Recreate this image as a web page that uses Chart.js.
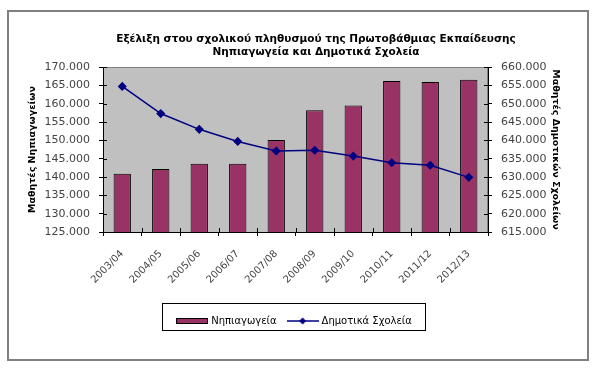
<!DOCTYPE html>
<html><head><meta charset="utf-8">
<script src="https://cdn.jsdelivr.net/npm/chart.js@4/dist/chart.umd.min.js"></script>
<style>html,body{margin:0;padding:0;background:#fff;}canvas{display:block;}</style>
</head><body>
<canvas id="c" width="600" height="371"></canvas>
<script>
const categories = ['2003/04','2004/05','2005/06','2006/07','2007/08','2008/09','2009/10','2010/11','2011/12','2012/13'];
const kindergartenValues = [140900, 142200, 143600, 143600, 150100, 158200, 159500, 166200, 165900, 166500];
const primaryValues = [654700, 647300, 643000, 639700, 637100, 637300, 635700, 633900, 633200, 629900];
const leftAxisRange = [125000, 170000];
const rightAxisRange = [615000, 660000];
const tickStep = 5000;
const titleLines = ['Εξέλιξη στου σχολικού πληθυσμού της Πρωτοβάθμιας Εκπαίδευσης', 'Νηπιαγωγεία και Δημοτικά Σχολεία'];
const seriesNames = ['Νηπιαγωγεία', 'Δημοτικά Σχολεία'];
const axisTitles = ['Μαθητές Νηπιαγωγείων', 'Μαθητές Δημοτικών Σχολείων'];

const FONT = "'DejaVu Sans', 'Liberation Sans', Arial, sans-serif";
const BAR_COLOR = '#993366';
const LINE_COLOR = '#000080';
const TICK_COLOR = '#444';
const fmt = v => String(v).replace(/\B(?=(\d{3})+(?!\d))/g, '.');

function barSwatch() {
  const c = document.createElement('canvas'); c.width = 32; c.height = 6;
  const g = c.getContext('2d');
  g.fillStyle = BAR_COLOR; g.fillRect(0.5, 0.5, 31, 5);
  g.strokeStyle = '#000'; g.lineWidth = 1; g.strokeRect(0.5, 0.5, 31, 5);
  return c;
}
function lineSwatch() {
  const c = document.createElement('canvas'); c.width = 32; c.height = 8;
  const g = c.getContext('2d');
  g.strokeStyle = LINE_COLOR; g.lineWidth = 1.5;
  g.beginPath(); g.moveTo(0, 4); g.lineTo(32, 4); g.stroke();
  g.fillStyle = LINE_COLOR;
  g.beginPath(); g.moveTo(16, 0.5); g.lineTo(19.5, 4); g.lineTo(16, 7.5); g.lineTo(12.5, 4); g.closePath(); g.fill();
  return c;
}

const framePlugin = {
  id: 'frame',
  beforeDraw(chart) {
    const ctx = chart.ctx, a = chart.chartArea;
    ctx.save();
    ctx.fillStyle = '#fff'; ctx.fillRect(0, 0, chart.width, chart.height);
    ctx.strokeStyle = '#808080'; ctx.lineWidth = 2;
    ctx.strokeRect(8, 11, 580, 349);
    ctx.fillStyle = '#C0C0C0';
    ctx.fillRect(a.left, a.top, a.right - a.left, a.bottom - a.top);
    ctx.strokeStyle = '#808080'; ctx.lineWidth = 1;
    ctx.strokeRect(a.left + 0.5, a.top + 0.5, a.right - a.left - 1, a.bottom - a.top);
    // title
    ctx.fillStyle = '#000';
    ctx.font = 'bold 10.5px ' + FONT;
    ctx.textAlign = 'center'; ctx.textBaseline = 'middle';
    ctx.fillText(titleLines[0], 316, 39);
    ctx.fillText(titleLines[1], 316, 52);
    ctx.restore();
  },
  afterDraw(chart) {
    const ctx = chart.ctx, a = chart.chartArea;
    ctx.save();
    ctx.strokeStyle = '#000'; ctx.lineWidth = 1;
    ctx.beginPath();
    const yl = chart.scales.y, yr = chart.scales.y1;
    yl.ticks.forEach((t, i) => { const p = Math.round(yl.getPixelForTick(i)) + 0.5; ctx.moveTo(a.left, p); ctx.lineTo(a.left + 4, p); });
    yr.ticks.forEach((t, i) => { const p = Math.round(yr.getPixelForTick(i)) + 0.5; ctx.moveTo(a.right - 4, p); ctx.lineTo(a.right, p); });
    const n = categories.length, w = (a.right - a.left) / n;
    for (let i = 1; i < n; i++) { const p = Math.round(a.left + i * w) + 0.5; ctx.moveTo(p, a.bottom - 4); ctx.lineTo(p, a.bottom); }
    ctx.stroke();
    // legend box
    const lg = chart.legend;
    if (lg && lg.legendHitBoxes.length) {
      const hb = lg.legendHitBoxes;
      const l = Math.min(...hb.map(h => h.left)), r = Math.max(...hb.map(h => h.left + h.width));
      const t = hb[0].top;
      ctx.strokeStyle = '#000';
      ctx.strokeRect(Math.round(l) - 15.5, Math.round(t) - 12.5, Math.round(r - l) + 29, 27);
    }
    ctx.restore();
  }
};

const tickFont = {family: FONT, size: 11};
new Chart(document.getElementById('c'), {
  type: 'bar',
  data: {
    labels: categories,
    datasets: [
      {
        type: 'line', label: seriesNames[1], data: primaryValues, yAxisID: 'y1',
        borderColor: LINE_COLOR, backgroundColor: LINE_COLOR, borderWidth: 1.5,
        pointStyle: 'rectRot', pointRadius: 3.5, pointHoverRadius: 3.5, tension: 0, order: 0
      },
      {
        type: 'bar', label: seriesNames[0], data: kindergartenValues, yAxisID: 'y',
        backgroundColor: BAR_COLOR, borderColor: '#000', borderWidth: 1,
        barPercentage: 0.45, categoryPercentage: 1, order: 1
      }
    ]
  },
  options: {
    responsive: false, animation: false,
    layout: {padding: {left: 20, right: 30, top: 67, bottom: 35}},
    plugins: {
      title: {display: false},
      tooltip: {enabled: false},
      legend: {
        position: 'bottom',
        labels: {
          usePointStyle: true, pointStyleWidth: 28, padding: 12,
          font: {family: FONT, size: 10}, color: '#111',
          generateLabels: chart => [
            {text: seriesNames[0], pointStyle: barSwatch(), datasetIndex: 1, fillStyle: BAR_COLOR, strokeStyle: '#000', lineWidth: 0},
            {text: seriesNames[1], pointStyle: lineSwatch(), datasetIndex: 0, fillStyle: LINE_COLOR, strokeStyle: LINE_COLOR, lineWidth: 0}
          ]
        }
      }
    },
    scales: {
      x: {
        grid: {offset: true, drawOnChartArea: false, color: '#000', tickLength: 4},
        border: {color: '#000'},
        ticks: {font: {family: FONT, size: 10}, color: TICK_COLOR, minRotation: 45, maxRotation: 45, padding: 12},
        afterFit: s => { s.height = 72; }
      },
      y: {
        position: 'left', min: leftAxisRange[0], max: leftAxisRange[1],
        grid: {drawOnChartArea: false, color: '#000', tickLength: 4},
        border: {color: '#000'},
        ticks: {stepSize: tickStep, font: tickFont, color: TICK_COLOR, padding: 9, callback: v => fmt(v)},
        title: {display: true, text: axisTitles[0], font: {family: FONT, size: 9.5, weight: 'bold'}, color: '#000', padding: {top: 7, bottom: 0}},
        afterFit: s => { s.width = 83; }
      },
      y1: {
        position: 'right', min: rightAxisRange[0], max: rightAxisRange[1],
        grid: {drawOnChartArea: false, color: '#000', tickLength: 4},
        border: {color: '#000'},
        ticks: {stepSize: tickStep, font: tickFont, color: TICK_COLOR, padding: 9, callback: v => fmt(v)},
        title: {display: true, text: axisTitles[1], font: {family: FONT, size: 9.5, weight: 'bold'}, color: '#000', padding: {top: 9, bottom: 0}},
        afterFit: s => { s.width = 82; }
      }
    }
  },
  plugins: [framePlugin]
});
</script>
</body></html>
